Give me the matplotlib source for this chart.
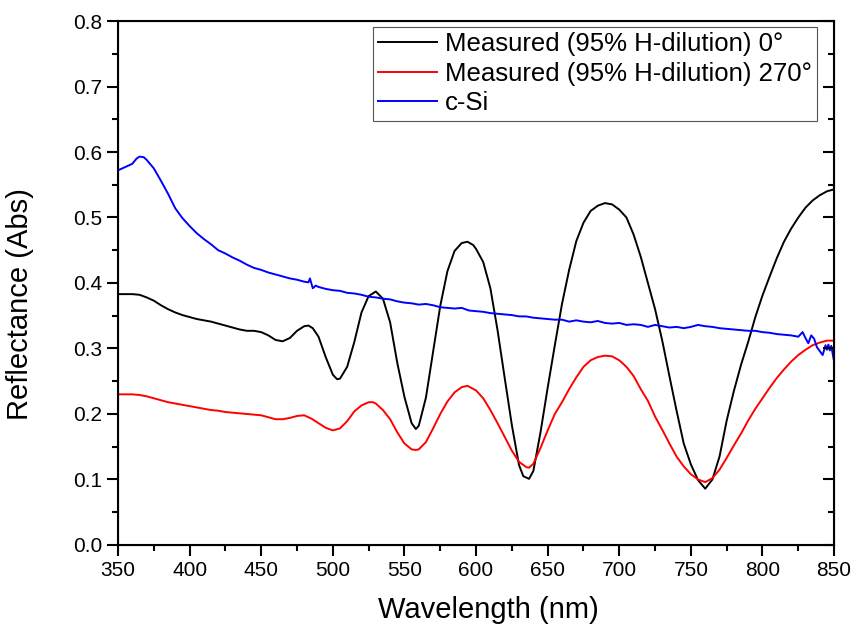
import numpy as np
import matplotlib
matplotlib.use('Agg')
import matplotlib.pyplot as plt
from matplotlib.ticker import MultipleLocator

plt.rcParams['font.family'] = ['Liberation Sans', 'DejaVu Sans']

# measured 0 deg
wl_0 = [350, 355, 360, 365, 370, 375, 380, 385, 390, 395, 400, 405, 410, 415, 420, 425,
        430, 435, 440, 445, 450, 455, 460, 465, 470, 475, 480, 483, 486, 490, 495, 500,
        503, 505, 510, 515, 520, 525, 530, 535, 540, 545, 550, 555, 558, 560, 565, 570,
        575, 580, 585, 590, 594, 598, 600, 605, 610, 615, 620, 625, 630, 633, 637, 640,
        645, 650, 655, 660, 665, 670, 675, 680, 685, 690, 695, 700, 705, 710, 715, 720,
        725, 730, 735, 740, 745, 750, 755, 760, 765, 770, 775, 780, 785, 790, 795, 800,
        805, 810, 815, 820, 825, 830, 835, 840, 845, 850]
r_0 = [0.383, 0.383, 0.383, 0.382, 0.378, 0.373, 0.366, 0.360, 0.355, 0.351, 0.348, 0.345,
       0.343, 0.341, 0.338, 0.335, 0.332, 0.329, 0.327, 0.327, 0.325, 0.320, 0.313, 0.311,
       0.316, 0.327, 0.334, 0.335, 0.331, 0.318, 0.287, 0.260, 0.253, 0.254, 0.272, 0.310,
       0.355, 0.380, 0.387, 0.376, 0.340, 0.278, 0.226, 0.186, 0.177, 0.182, 0.225, 0.295,
       0.365, 0.418, 0.449, 0.461, 0.463, 0.458, 0.452, 0.432, 0.392, 0.328, 0.255, 0.183,
       0.122, 0.105, 0.101, 0.113, 0.172, 0.240, 0.305, 0.368, 0.420, 0.464, 0.492, 0.510,
       0.518, 0.522, 0.520, 0.512, 0.500, 0.474, 0.440, 0.400, 0.360, 0.312, 0.258, 0.205,
       0.155, 0.123, 0.099, 0.086, 0.100, 0.135, 0.190, 0.235, 0.275, 0.310, 0.348, 0.381,
       0.410, 0.438, 0.463, 0.483, 0.500, 0.515, 0.526, 0.534, 0.540, 0.543]

# measured 270 deg
wl_270 = [350, 355, 360, 365, 370, 375, 380, 385, 390, 395, 400, 405, 410, 415, 420, 425,
          430, 435, 440, 445, 450, 455, 460, 465, 470, 475, 480, 485, 490, 495, 500, 505,
          510, 515, 520, 525, 528, 530, 535, 540, 545, 550, 555, 558, 560, 565, 570, 575,
          580, 585, 590, 594, 600, 605, 610, 615, 620, 625, 630, 635, 637, 640, 645, 650,
          655, 660, 665, 670, 675, 680, 685, 690, 695, 700, 705, 710, 715, 720, 725, 730,
          735, 740, 745, 750, 755, 760, 765, 770, 775, 780, 785, 790, 795, 800, 805, 810,
          815, 820, 825, 830, 835, 840, 845, 850]
r_270 = [0.230, 0.230, 0.230, 0.229, 0.227, 0.224, 0.221, 0.218, 0.216, 0.214, 0.212, 0.210,
         0.208, 0.206, 0.205, 0.203, 0.202, 0.201, 0.200, 0.199, 0.198, 0.195, 0.192, 0.192,
         0.194, 0.197, 0.198, 0.193, 0.186, 0.179, 0.175, 0.178, 0.189, 0.204, 0.213, 0.218,
         0.218, 0.216, 0.206, 0.192, 0.172, 0.155, 0.146, 0.145, 0.146, 0.157, 0.178, 0.200,
         0.219, 0.233, 0.241, 0.243, 0.236, 0.224, 0.206, 0.186, 0.165, 0.144, 0.127, 0.119,
         0.118, 0.124, 0.148, 0.175, 0.200, 0.218, 0.238, 0.256, 0.272, 0.282, 0.287, 0.289,
         0.288, 0.282, 0.272, 0.258, 0.238, 0.220, 0.196, 0.176, 0.155, 0.135, 0.120, 0.108,
         0.100, 0.096, 0.102, 0.115, 0.133, 0.152, 0.170, 0.190, 0.208, 0.224, 0.240, 0.255,
         0.268, 0.280, 0.290, 0.298, 0.305, 0.309, 0.312, 0.312]

# c-Si reference
wl_si = [350, 355, 360, 363, 365, 368, 370, 375, 380, 385, 390, 395, 400, 405, 410, 415,
         420, 425, 430, 435, 440, 445, 450, 455, 460, 465, 470, 475, 480, 483, 484, 486,
         488, 490, 495, 500, 505, 510, 515, 520, 525, 530, 535, 540, 545, 550, 555, 560,
         565, 570, 575, 580, 585, 590, 595, 600, 605, 610, 615, 620, 625, 630, 635, 640,
         645, 650, 655, 660, 665, 670, 675, 680, 685, 690, 695, 700, 705, 710, 715, 720,
         725, 730, 735, 740, 745, 750, 755, 760, 765, 770, 775, 780, 785, 790, 795, 800,
         805, 810, 815, 820, 825, 828, 830, 832, 834, 836, 838, 840, 842, 844, 845, 846,
         847, 848, 850]
r_si = [0.572, 0.577, 0.582, 0.590, 0.593, 0.592, 0.588, 0.575, 0.556, 0.536, 0.514, 0.499,
        0.487, 0.476, 0.467, 0.459, 0.450, 0.445, 0.439, 0.434, 0.428, 0.423, 0.420, 0.416,
        0.413, 0.410, 0.407, 0.405, 0.402, 0.401, 0.407, 0.392, 0.396, 0.394, 0.391, 0.389,
        0.388, 0.385, 0.384, 0.382, 0.379, 0.378, 0.376, 0.375, 0.372, 0.370, 0.369, 0.367,
        0.368, 0.366, 0.363, 0.362, 0.361, 0.362, 0.358, 0.357, 0.356, 0.354, 0.353, 0.352,
        0.351, 0.349, 0.349, 0.347, 0.346, 0.345, 0.344, 0.344, 0.341, 0.343, 0.341, 0.340,
        0.342, 0.339, 0.338, 0.339, 0.336, 0.337, 0.336, 0.333, 0.336, 0.334, 0.332, 0.333,
        0.331, 0.333, 0.336, 0.334, 0.333, 0.331, 0.330, 0.329, 0.328, 0.327, 0.327, 0.325,
        0.324, 0.322, 0.321, 0.320, 0.318, 0.325, 0.316, 0.308, 0.320, 0.315, 0.302, 0.296,
        0.290, 0.305, 0.298, 0.306, 0.297, 0.304, 0.280]

fig = plt.figure(figsize=(8.52, 6.27), dpi=100)
ax = fig.add_axes([0.1385, 0.1308, 0.8405, 0.8357])

ax.plot(wl_0, r_0, color='black', lw=1.4, label='Measured (95% H-dilution) 0°')
ax.plot(wl_270, r_270, color='#ff0000', lw=1.4, label='Measured (95% H-dilution) 270°')
ax.plot(wl_si, r_si, color='#0000ff', lw=1.4, label='c-Si')

ax.set_xlim(350, 850)
ax.set_ylim(0, 0.8)
ax.xaxis.set_major_locator(MultipleLocator(50))
ax.xaxis.set_minor_locator(MultipleLocator(25))
ax.yaxis.set_major_locator(MultipleLocator(0.1))
ax.yaxis.set_minor_locator(MultipleLocator(0.05))
ax.yaxis.set_major_formatter(plt.FormatStrFormatter('%.1f'))

for s in ax.spines.values():
    s.set_linewidth(1.5)
ax.tick_params(which='both', direction='out', width=1.5, labelsize=15, top=False, right=False)
ax.tick_params(which='major', length=8)
ax.tick_params(which='minor', length=4.5)

# inward ticks on the right spine, no labels
axr = ax.twinx()
axr.set_ylim(0, 0.8)
axr.yaxis.set_major_locator(MultipleLocator(0.1))
axr.yaxis.set_minor_locator(MultipleLocator(0.05))
axr.tick_params(which='both', direction='in', width=1.5, labelright=False)
axr.tick_params(which='major', length=8)
axr.tick_params(which='minor', length=4.5)

ax.set_xlabel('Wavelength (nm)', fontsize=21)
ax.set_ylabel('Reflectance (Abs)', fontsize=21)
ax.xaxis.set_label_coords(0.517, -0.097)
ax.yaxis.set_label_coords(-0.118, 0.46)

leg = ax.legend(loc='upper right', bbox_to_anchor=(0.976, 0.9885), fontsize=18.5,
                handlelength=2.3, handletextpad=0.3, labelspacing=0.22, borderpad=0.2,
                borderaxespad=0, fancybox=False, framealpha=1, edgecolor='#555555')
leg.get_frame().set_linewidth(0.8)

plt.savefig('out.png', dpi=100)
